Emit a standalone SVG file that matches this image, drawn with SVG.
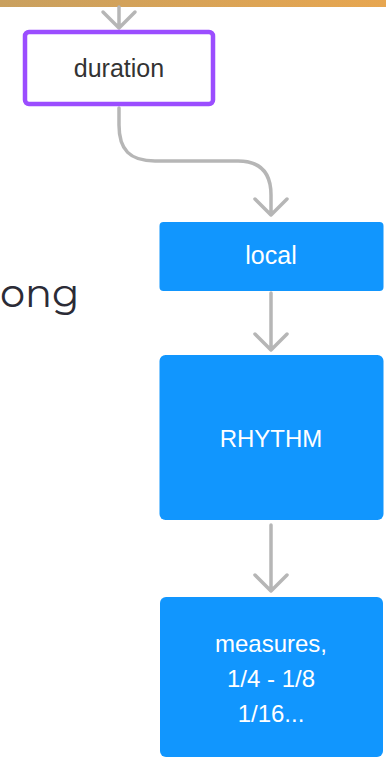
<svg xmlns="http://www.w3.org/2000/svg" width="386" height="758" viewBox="0 0 386 758">
<defs>
<linearGradient id="bar" x1="0" y1="0" x2="1" y2="0">
<stop offset="0" stop-color="#c9a05f"/>
<stop offset="1" stop-color="#e7a650"/>
</linearGradient>
</defs>
<style>
.blue{fill:#1196fe}
.wt{fill:#ffffff;font-family:"Liberation Sans",Arial,sans-serif;font-size:24px;text-anchor:middle}
.dk{fill:#333333;font-family:"Liberation Sans",Arial,sans-serif;font-size:25px;text-anchor:middle}
.ln{fill:none;stroke:#b6b6b6;stroke-width:3.5;stroke-linecap:round;stroke-linejoin:round}
</style>
<rect width="386" height="758" fill="#ffffff"/>
<rect x="0" y="0" width="386" height="7" fill="url(#bar)"/>
<text x="0" y="307" font-family="Montserrat,'Open Sans',sans-serif" font-size="40" fill="#2b2b36">ong</text>
<g id="connectors">
<path class="ln" d="M119,7 V28 M103,12 L119,28 L135,12"/>
<path class="ln" d="M119,108 V125 C119,150 130,161 155,161 H238 C262,161 271,175 271,195 V215 M255,199 L271,215 L287,199"/>
<path class="ln" d="M271,293 V350 M255,334 L271,350 L287,334"/>
<path class="ln" d="M271,525 V591 M255,575 L271,591 L287,575"/>
</g>
<g id="duration">
<rect x="25" y="32" width="188" height="72" rx="4" fill="#ffffff" stroke="#9b4dff" stroke-width="4.5"/>
<text class="dk" x="119" y="77">duration</text>
</g>
<g id="local">
<rect class="blue" x="159.5" y="222" width="224" height="69" rx="4"/>
<text class="wt" x="271" y="264" style="font-size:25px">local</text>
</g>
<g id="rhythm">
<rect class="blue" x="159.5" y="355" width="224" height="165" rx="6"/>
<text class="wt" x="271" y="447">RHYTHM</text>
</g>
<g id="measures">
<rect class="blue" x="160" y="597" width="223" height="160" rx="6"/>
<text class="wt" x="271" y="652">measures,</text>
<text class="wt" x="271" y="687">1/4 - 1/8</text>
<text class="wt" x="271" y="722">1/16...</text>
</g>
</svg>
